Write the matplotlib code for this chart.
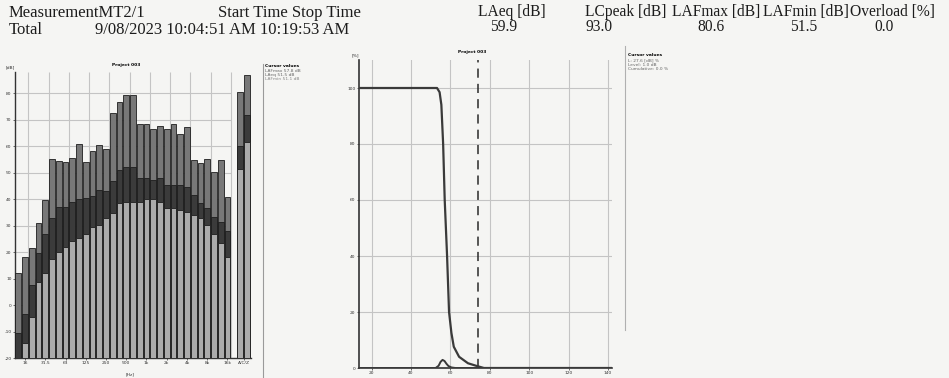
import numpy as np
import matplotlib
matplotlib.use("Agg")
import matplotlib.pyplot as plt

# header of the printed report
head_labels = ["LAeq [dB]", "LCpeak [dB]", "LAFmax [dB]", "LAFmin [dB]", "Overload [%]"]
head_values = ["59.9", "93.0", "80.6", "51.5", "0.0"]

# 1/3 octave spectrum (dB)
bands = ["12.5", "16", "20", "25", "31.5", "40", "50", "63", "80", "100", "125",
         "160", "200", "250", "315", "400", "500", "630", "800", "1k", "1.25k",
         "1.6k", "2k", "2.5k", "3.15k", "4k", "5k", "6.3k", "8k", "10k", "12.5k", "16k"]
lafmax = [12, 18, 21.5, 31, 39.6, 55, 54.3, 54, 55.7, 61, 54, 58, 60.4, 59, 72.7, 76.8,
          79.5, 79.2, 68.3, 68.5, 66.3, 67.5, 66.6, 68.5, 64.5, 67.4, 54.7, 53.8, 55.3,
          50.3, 54.6, 40.9]
laeq = [-10.6, -3.2, 7.5, 19.6, 27, 33, 37, 37, 39, 40.2, 40.3, 41.2, 43.4, 43, 46.8, 51,
        52.2, 52, 47.8, 47.8, 47.2, 48, 45.3, 45.3, 45.3, 44.6, 41.5, 38.4, 36.5, 33.4,
        31.5, 28]
lafmin = [-21, -14.3, -4.4, 8.6, 12, 17.4, 20, 22, 24.3, 25.2, 27, 29.3, 30.2, 32.7, 34.6,
          38.4, 39, 39, 39, 40.2, 40.2, 39, 36.8, 36.5, 35.8, 35.2, 34, 32.7, 30.2, 27,
          23.3, 18.2]
tick_bands = ["16", "31.5", "63", "125", "250", "500", "1k", "2k", "4k", "8k", "16k"]

# overall A / C values
total_max = [80.6, 87.0]
total_eq = [59.9, 71.7]
total_min = [51.5, 61.4]

# statistics: cumulative and distribution (level dB, percent)
cum_level = [13.6, 53.2, 54.5, 55.4, 56.3, 57.1, 58.3, 59.3, 60.5, 61.7, 64.4, 68.9, 73, 77, 142]
cum_pct = [100, 100, 98.5, 94, 80, 60, 40, 20, 12.5, 7.6, 4, 1.7, 0.8, 0, 0]
dist_level = [13.6, 52.5, 54, 55, 56, 57, 58, 59, 60.5, 62.5, 142]
dist_pct = [0, 0, 0.8, 2.2, 2.9, 2.5, 1.5, 0.7, 0.2, 0, 0]
cursor_level = 74

W, H = 949, 378
fig = plt.figure(figsize=(W / 100, H / 100), dpi=100)
fig.patch.set_facecolor("#f5f5f3")

serif = "Liberation Serif"
fs_left = 12
fs_right = 11.2
ink = "#1c1c1c"
def px(x, y):
    return x / W, 1 - y / H

fig.text(*px(9, 13), "MeasurementMT2/1", family=serif, fontsize=fs_left, va="center", color=ink)
fig.text(*px(218, 13), "Start Time Stop Time", family=serif, fontsize=fs_left, va="center", color=ink)
fig.text(*px(9, 30), "Total", family=serif, fontsize=fs_left, va="center", color=ink)
fig.text(*px(95, 30), "9/08/2023 10:04:51 AM 10:19:53 AM", family=serif, fontsize=fs_left,
         va="center", color=ink)
label_x = [478, 585, 672, 763, 850]
value_x = [490, 585, 697, 790, 874]
for lab, val, lx, vx in zip(head_labels, head_values, label_x, value_x):
    fig.text(*px(lx, 12), lab, family=serif, fontsize=fs_right, va="center", color=ink)
    fig.text(*px(vx, 27), val, family=serif, fontsize=fs_right, va="center", color=ink)

tiny = 3.2
grid_c = "#c4c4c4"

# ---------------- spectrum ----------------
ax1 = fig.add_axes([15 / W, 1 - 358 / H, (251 - 15) / W, (358 - 72) / H])
ax1.set_facecolor("none")
base = -20
x = np.arange(len(bands))
xt = np.array([32.9, 33.9])
for vals, xs, col in [(lafmax, x, "#787878"), (laeq, x, "#3b3b3b"), (lafmin, x, "#ababab")]:
    v = np.array(vals)
    ax1.bar(xs, v - base, bottom=base, width=0.86, color=col, edgecolor="#1e1e1e",
            linewidth=0.6, zorder=3)
for vals, col in [(total_max, "#787878"), (total_eq, "#3b3b3b"), (total_min, "#ababab")]:
    v = np.array(vals)
    ax1.bar(xt, v - base, bottom=base, width=0.86, color=col, edgecolor="#1e1e1e",
            linewidth=0.6, zorder=3)
ax1.set_xlim(-0.5, 34.5)
ax1.set_ylim(-20, 88)
yt = np.arange(-20, 81, 10)
ax1.hlines(yt, -0.5, 31.6, color=grid_c, linewidth=0.8, zorder=1)
ax1.vlines(np.arange(1.5, 32, 3), -20, 88, color=grid_c, linewidth=0.8, zorder=1)
ax1.set_yticks(yt)
ax1.set_yticklabels([str(v) for v in yt])
ticks = [bands.index(b) for b in tick_bands] + [33.4]
ax1.set_xticks(ticks)
ax1.set_xticklabels(tick_bands + ["A/C/Z"])
ax1.tick_params(labelsize=tiny, length=1.5, width=0.5, pad=1, colors="#333333")
for s in ["top", "right"]:
    ax1.spines[s].set_visible(False)
for s in ["left", "bottom"]:
    ax1.spines[s].set_linewidth(1.0)
    ax1.spines[s].set_color("#333333")
ax1.text(-0.5, 89, "[dB]", fontsize=tiny, ha="right", va="bottom", color="#333333")
ax1.text(16, 90, "Project 003", fontsize=tiny, ha="center", va="bottom", weight="bold")
ax1.text(16.5, -26.2, "[Hz]", fontsize=tiny, ha="center", va="center", color="#333333")

fig.add_artist(plt.Line2D([263 / W, 263 / W], [1 - 64 / H, 0], color="#9a9a9a", linewidth=0.8))
fig.text(*px(265, 66), "Cursor values", fontsize=tiny, weight="bold", va="center")
fig.text(*px(265, 71), "LAFmax 57.8 dB", fontsize=tiny, va="center", color="#666666")
fig.text(*px(265, 75), "LAeq 51.5 dB", fontsize=tiny, va="center", color="#666666")
fig.text(*px(265, 79), "LAFmin 51.1 dB", fontsize=tiny, va="center", color="#888888")

# ---------------- statistics ----------------
ax2 = fig.add_axes([359 / W, 1 - 368 / H, (612 - 359) / W, (368 - 60) / H])
ax2.set_facecolor("none")
ax2.plot(cum_level, cum_pct, color="#3a3a3a", linewidth=1.6, zorder=3)
ax2.plot(dist_level, dist_pct, color="#3a3a3a", linewidth=1.4, zorder=3)
ax2.axvline(cursor_level, color="#2a2a2a", linewidth=1.1, dashes=(6, 4), zorder=2)
ax2.set_xlim(13.6, 142)
ax2.set_ylim(0, 110)
ax2.set_xticks(np.arange(20, 141, 20))
ax2.set_yticks(np.arange(0, 101, 20))
ax2.grid(True, color=grid_c, linewidth=0.8, zorder=1)
ax2.tick_params(labelsize=tiny, length=1.5, width=0.5, pad=1, colors="#333333")
for s in ["top", "right"]:
    ax2.spines[s].set_visible(False)
for s in ["left", "bottom"]:
    ax2.spines[s].set_linewidth(1.2)
    ax2.spines[s].set_color("#333333")
ax2.text(13.6, 111, "[%]", fontsize=tiny, ha="right", va="bottom", color="#333333")
ax2.text(71, 112, "Project 003", fontsize=tiny, ha="center", va="bottom", weight="bold")

fig.add_artist(plt.Line2D([625 / W, 625 / W], [1 - 46 / H, 1 - 330 / H], color="#b0b0b0", linewidth=0.8))
fig.text(*px(628, 55), "Cursor values", fontsize=tiny, weight="bold", va="center")
fig.text(*px(628, 60), "L: 27.6 [dB] %", fontsize=tiny, va="center", color="#666666")
fig.text(*px(628, 64.5), "Level: 1.0 dB", fontsize=tiny, va="center", color="#666666")
fig.text(*px(628, 69), "Cumulative: 0.0 %", fontsize=tiny, va="center", color="#666666")

fig.savefig("out.png", dpi=100, facecolor=fig.get_facecolor())
